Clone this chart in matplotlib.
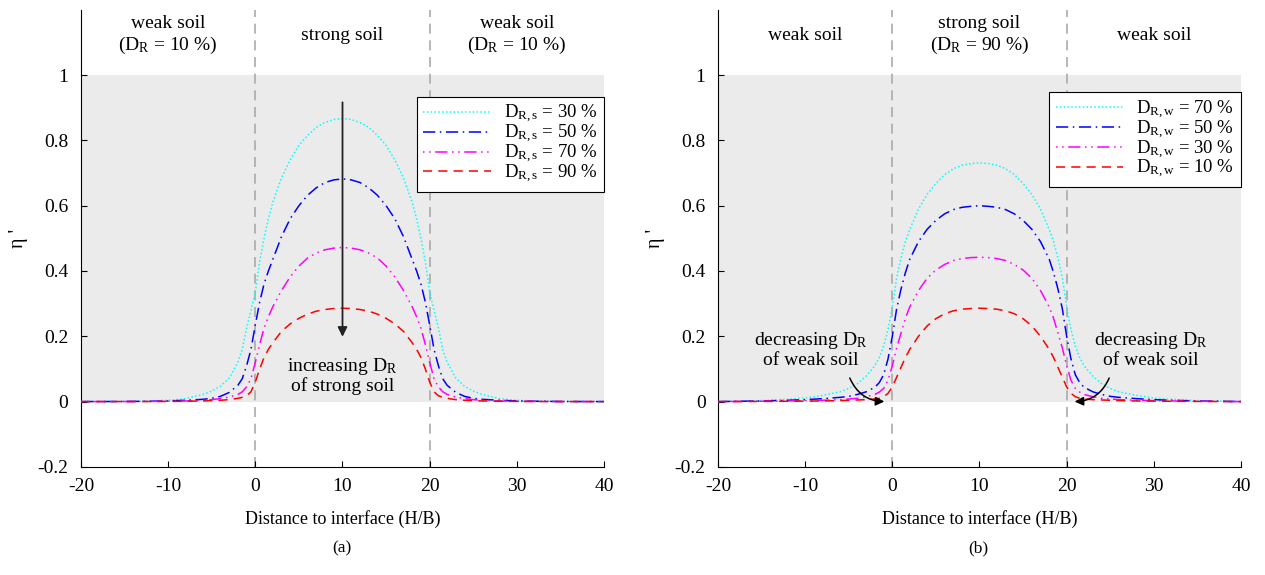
import numpy as np
import matplotlib
matplotlib.use("Agg")
import matplotlib.pyplot as plt

plt.rcParams['font.family'] = ['Liberation Serif', 'DejaVu Serif']
plt.rcParams['mathtext.fontset'] = 'custom'
plt.rcParams['mathtext.rm'] = 'Liberation Serif'
plt.rcParams['mathtext.it'] = 'Liberation Serif:italic'
plt.rcParams['axes.unicode_minus'] = False

# distance to interface (H/B)
dist = [-20, -15, -12, -10, -8, -6, -5, -4, -3, -2, -1.5, -1, -0.5, 0, 0.5, 1, 1.5, 2, 3, 4, 5, 6, 7, 8, 9, 10,
        11, 12, 13, 14, 15, 16, 17, 18, 18.5, 19, 19.5, 20, 20.5, 21, 21.5, 22, 23, 24, 25, 26, 28, 30, 32, 35, 40]

# panel (a): weak soil D_R = 10 %, strong soil varies
a_30 = [0.0, 0.0005, 0.002, 0.004, 0.009, 0.022, 0.032, 0.047, 0.072, 0.12, 0.16, 0.225, 0.28, 0.335, 0.43, 0.5,
        0.56, 0.61, 0.685, 0.74, 0.785, 0.815, 0.84, 0.855, 0.864, 0.867,
        0.864, 0.855, 0.84, 0.815, 0.785, 0.74, 0.685, 0.61, 0.56, 0.5, 0.43, 0.335, 0.28, 0.225, 0.16, 0.12,
        0.072, 0.047, 0.032, 0.022, 0.009, 0.004, 0.002, 0.0005, 0.0]
a_50 = [0.0, 0.0003, 0.001, 0.002, 0.004, 0.007, 0.01, 0.016, 0.028, 0.05, 0.07, 0.11, 0.16, 0.235, 0.305, 0.36,
        0.4, 0.435, 0.505, 0.56, 0.6, 0.632, 0.655, 0.671, 0.679, 0.682,
        0.679, 0.671, 0.655, 0.632, 0.6, 0.56, 0.505, 0.435, 0.4, 0.36, 0.305, 0.235, 0.16, 0.11, 0.07, 0.05,
        0.028, 0.016, 0.01, 0.007, 0.004, 0.002, 0.001, 0.0003, 0.0]
a_70 = [0.0, 0.0002, 0.0005, 0.001, 0.002, 0.004, 0.006, 0.009, 0.014, 0.022, 0.03, 0.045, 0.07, 0.12, 0.175, 0.225,
        0.26, 0.29, 0.34, 0.382, 0.415, 0.44, 0.455, 0.465, 0.47, 0.472,
        0.47, 0.465, 0.455, 0.44, 0.415, 0.382, 0.34, 0.29, 0.26, 0.225, 0.175, 0.12, 0.07, 0.045, 0.03, 0.022,
        0.014, 0.009, 0.006, 0.004, 0.002, 0.001, 0.0005, 0.0002, 0.0]
a_90 = [0.0, 0.0001, 0.0003, 0.0006, 0.001, 0.002, 0.003, 0.004, 0.006, 0.01, 0.013, 0.018, 0.03, 0.06, 0.1, 0.135,
        0.16, 0.18, 0.215, 0.238, 0.255, 0.268, 0.277, 0.282, 0.285, 0.286,
        0.285, 0.282, 0.277, 0.268, 0.255, 0.238, 0.215, 0.18, 0.16, 0.135, 0.1, 0.06, 0.03, 0.018, 0.013, 0.01,
        0.006, 0.004, 0.003, 0.002, 0.001, 0.0006, 0.0003, 0.0001, 0.0]

# panel (b): strong soil D_R = 90 %, weak soil varies
b_70 = [0.0, 0.003, 0.007, 0.011, 0.019, 0.03, 0.04, 0.055, 0.078, 0.11, 0.135, 0.17, 0.22, 0.29, 0.38, 0.44,
        0.49, 0.527, 0.59, 0.635, 0.668, 0.695, 0.713, 0.724, 0.729, 0.731,
        0.729, 0.724, 0.713, 0.695, 0.668, 0.635, 0.59, 0.527, 0.49, 0.44, 0.38, 0.29, 0.22, 0.17, 0.135, 0.11,
        0.078, 0.055, 0.04, 0.03, 0.019, 0.011, 0.007, 0.003, 0.0]
b_50 = [0.0, 0.002, 0.004, 0.006, 0.009, 0.013, 0.016, 0.022, 0.03, 0.044, 0.058, 0.082, 0.13, 0.2, 0.285, 0.345,
        0.395, 0.436, 0.49, 0.528, 0.555, 0.575, 0.588, 0.595, 0.598, 0.6,
        0.598, 0.595, 0.588, 0.575, 0.555, 0.528, 0.49, 0.436, 0.395, 0.345, 0.285, 0.2, 0.13, 0.082, 0.058, 0.044,
        0.03, 0.022, 0.016, 0.013, 0.009, 0.006, 0.004, 0.002, 0.0]
b_30 = [0.0, 0.001, 0.002, 0.003, 0.004, 0.006, 0.008, 0.01, 0.015, 0.022, 0.029, 0.04, 0.065, 0.11, 0.165, 0.21,
        0.255, 0.29, 0.34, 0.378, 0.403, 0.42, 0.432, 0.438, 0.441, 0.442,
        0.441, 0.438, 0.432, 0.42, 0.403, 0.378, 0.34, 0.29, 0.255, 0.21, 0.165, 0.11, 0.065, 0.04, 0.029, 0.022,
        0.015, 0.01, 0.008, 0.006, 0.004, 0.003, 0.002, 0.001, 0.0]
b_10 = [0.0, 0.0005, 0.001, 0.0015, 0.002, 0.003, 0.004, 0.005, 0.006, 0.008, 0.01, 0.015, 0.025, 0.045, 0.075, 0.105,
        0.135, 0.16, 0.2, 0.232, 0.254, 0.269, 0.278, 0.283, 0.285, 0.286,
        0.285, 0.283, 0.278, 0.269, 0.254, 0.232, 0.2, 0.16, 0.135, 0.105, 0.075, 0.045, 0.025, 0.015, 0.01, 0.008,
        0.006, 0.005, 0.004, 0.003, 0.002, 0.0015, 0.001, 0.0005, 0.0]

a_labels = [r'$\mathregular{D_{R,s}}$ = 30 %', r'$\mathregular{D_{R,s}}$ = 50 %',
            r'$\mathregular{D_{R,s}}$ = 70 %', r'$\mathregular{D_{R,s}}$ = 90 %']
b_labels = [r'$\mathregular{D_{R,w}}$ = 70 %', r'$\mathregular{D_{R,w}}$ = 50 %',
            r'$\mathregular{D_{R,w}}$ = 30 %', r'$\mathregular{D_{R,w}}$ = 10 %']

xticks = [-20, -10, 0, 10, 20, 30, 40]
yticks = [-0.2, 0, 0.2, 0.4, 0.6, 0.8, 1]
ytick_labels = ['-0.2', '0', '0.2', '0.4', '0.6', '0.8', '1']

colors = ['cyan', 'blue', 'magenta', 'red']
styles = [(0, (1, 1.5)), (0, (8, 3, 1, 3)), (0, (1, 3, 1, 3, 8, 3)), (0, (6, 4))]

fs = 12.5

fig = plt.figure(figsize=(12.65, 5.75), dpi=100)
ax_a = fig.add_axes([0.064, 0.188, 0.4135, 0.795])
ax_b = fig.add_axes([0.5676, 0.188, 0.4134, 0.795])


def setup(ax, series, labels, legend_top):
    ax.axhspan(0, 1, color='#ebebeb', zorder=0, lw=0)
    for xv in [0, 20]:
        ax.axvline(xv, color='#aaaaaa', ls=(0, (6, 4)), lw=1.2, zorder=1)
    for ys, c, s, lab in zip(series, colors, styles, labels):
        ax.plot(dist, ys, color=c, ls=s, lw=1.1, label=lab, zorder=3)
    ax.set_xlim(-20, 40)
    ax.set_ylim(-0.2, 1.2)
    ax.set_xticks(xticks)
    ax.set_yticks(yticks)
    ax.set_yticklabels(ytick_labels)
    ax.spines['top'].set_visible(False)
    ax.spines['right'].set_visible(False)
    ax.tick_params(direction='in', labelsize=14, length=4)
    ax.tick_params(axis='x', pad=8)
    ax.tick_params(axis='y', pad=9)
    ax.set_xlabel('Distance to interface (H/B)', fontsize=fs + 0.5, labelpad=11)
    ax.set_ylabel("η '", fontsize=fs + 2, labelpad=7)
    leg = ax.legend(loc='upper right', bbox_to_anchor=(1.0, legend_top), borderaxespad=0,
                    fontsize=fs + 1, handlelength=3.6, labelspacing=-0.12, fancybox=False,
                    edgecolor='black', framealpha=1, borderpad=0.35, handletextpad=0.7)
    leg.get_frame().set_linewidth(0.8)


setup(ax_a, [a_30, a_50, a_70, a_90], a_labels, 0.81)
setup(ax_b, [b_70, b_50, b_30, b_10], b_labels, 0.82)

# region labels
tfs = 14
ax_a.text(-10, 1.12, 'weak soil\n(' + r'$\mathregular{D_R}$' + ' = 10 %)', ha='center', va='center', fontsize=tfs,
          linespacing=1.2)
ax_a.text(10, 1.12, 'strong soil', ha='center', va='center', fontsize=tfs)
ax_a.text(30, 1.12, 'weak soil\n(' + r'$\mathregular{D_R}$' + ' = 10 %)', ha='center', va='center', fontsize=tfs,
          linespacing=1.2)
ax_b.text(-10, 1.12, 'weak soil', ha='center', va='center', fontsize=tfs)
ax_b.text(10, 1.12, 'strong soil\n(' + r'$\mathregular{D_R}$' + ' = 90 %)', ha='center', va='center', fontsize=tfs,
          linespacing=1.2)
ax_b.text(30, 1.12, 'weak soil', ha='center', va='center', fontsize=tfs)

# annotations
afs = 14
ax_a.annotate('', xy=(10, 0.19), xytext=(10, 0.925),
              arrowprops=dict(arrowstyle='-|>', color='#222222', lw=1.3, mutation_scale=14))
ax_a.text(10, 0.08, 'increasing ' + r'$\mathregular{D_R}$' + '\nof strong soil', ha='center', va='center',
          fontsize=afs, linespacing=1.05)
ax_b.text(-9.4, 0.16, 'decreasing ' + r'$\mathregular{D_R}$' + '\nof weak soil', ha='center', va='center',
          fontsize=afs, linespacing=1.05)
ax_b.text(29.6, 0.16, 'decreasing ' + r'$\mathregular{D_R}$' + '\nof weak soil', ha='center', va='center',
          fontsize=afs, linespacing=1.05)
ax_b.annotate('', xy=(-0.6, 0.0), xytext=(-5.0, 0.08),
              arrowprops=dict(arrowstyle='-|>', color='black', lw=1.1, mutation_scale=13,
                              connectionstyle='arc3,rad=0.35'))
ax_b.annotate('', xy=(20.6, 0.0), xytext=(25.0, 0.08),
              arrowprops=dict(arrowstyle='-|>', color='black', lw=1.1, mutation_scale=13,
                              connectionstyle='arc3,rad=-0.35'))

fig.text(0.27, 0.047, '(a)', ha='center', va='center', fontsize=fs)
fig.text(0.773, 0.047, '(b)', ha='center', va='center', fontsize=fs)

fig.savefig('out.png', dpi=100)
